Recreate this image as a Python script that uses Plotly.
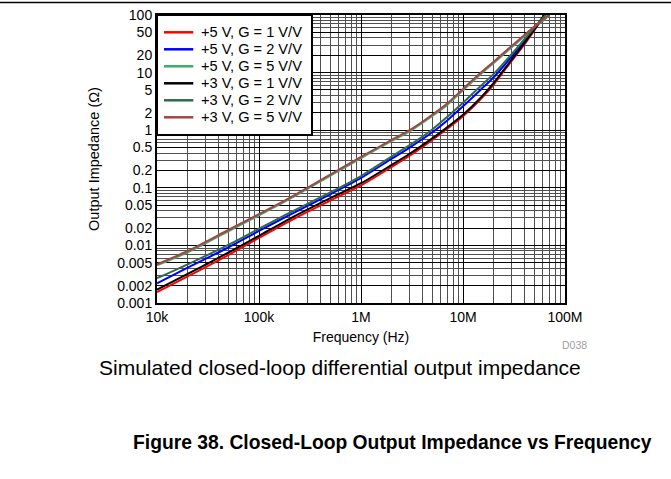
import plotly.graph_objects as go

# ---- data ----
freq_hz = [1e4, 2e4, 5e4, 1e5, 2e5, 5e5, 1e6, 2e6, 3e6, 5e6, 7e6, 1e7, 1.5e7, 2e7, 3e7, 4e7, 5e7, 6e7, 7e7]

z_5v_g1 = [0.00155, 0.0029, 0.0068, 0.0135, 0.0265, 0.060, 0.11, 0.23, 0.36, 0.68, 1.06, 1.75, 3.5, 6.2, 16, 31, 54, 88, 132]
z_5v_g2 = [0.0022, 0.0041, 0.0092, 0.0178, 0.034, 0.077, 0.148, 0.32, 0.50, 0.92, 1.48, 2.6, 5.1, 8.3, 19, 35, 57, 87, 125]
z_5v_g5 = [0.0045, 0.0076, 0.0176, 0.0333, 0.064, 0.162, 0.328, 0.65, 0.95, 1.76, 2.75, 4.95, 9.5, 14.7, 27.5, 43, 60, 78, 98]
z_3v_g1 = [0.0017, 0.0032, 0.0075, 0.0147, 0.029, 0.066, 0.12, 0.25, 0.39, 0.72, 1.12, 1.85, 3.7, 6.6, 16.8, 32.5, 56, 90, 134]
z_3v_g2 = [0.0027, 0.0047, 0.0102, 0.0195, 0.037, 0.083, 0.16, 0.35, 0.55, 1.03, 1.7, 3.0, 5.9, 9.5, 21, 38, 60, 86, 118]
z_3v_g5 = [0.0047, 0.0080, 0.0185, 0.035, 0.067, 0.17, 0.345, 0.68, 1.0, 1.85, 2.9, 5.2, 10, 15.5, 29, 45, 63, 81, 101]

series_names = ["+5 V, G = 1 V/V", "+5 V, G = 2 V/V", "+5 V, G = 5 V/V",
                "+3 V, G = 1 V/V", "+3 V, G = 2 V/V", "+3 V, G = 5 V/V"]
series_values = [z_5v_g1, z_5v_g2, z_5v_g5, z_3v_g1, z_3v_g2, z_3v_g5]
series_colors = ["#ff0000", "#0000ff", "#3dab6e", "#000000", "#2e6b4b", "#a64343"]

x_tick_vals = [1e4, 1e5, 1e6, 1e7, 1e8]
x_tick_text = ["10k", "100k", "1M", "10M", "100M"]
y_tick_vals = [100, 50, 20, 10, 5, 2, 1, 0.5, 0.2, 0.1, 0.05, 0.02, 0.01, 0.005, 0.002, 0.001]
y_tick_text = ["100", "50", "20", "10", "5", "2", "1", "0.5", "0.2", "0.1",
               "0.05", "0.02", "0.01", "0.005", "0.002", "0.001"]

x_minor = [k * 10 ** d for d in range(4, 8) for k in range(1, 10)]
y_minor = [k * 10.0 ** d for d in range(-3, 2) for k in range(1, 10)]

FONT = "Liberation Sans, Arial, sans-serif"

# plot area in page pixels
L, R, T, B = 157, 565, 15, 303
W, H = 671, 479
PW, PH = R - L, B - T


def px(x):
    return (x - L) / PW


def py(y):
    return (B - y) / PH


fig = go.Figure()
for name, vals, col in zip(series_names, series_values, series_colors):
    fig.add_trace(go.Scatter(x=freq_hz, y=vals, mode="lines", name=name, showlegend=False,
                             line=dict(color=col, width=2, shape="spline", smoothing=0.8)))

axis_common = dict(
    type="log", showline=True, linecolor="black", linewidth=2, mirror=True,
    ticks="", showgrid=True, gridcolor="#000000", gridwidth=1, zeroline=False,
    automargin=False,
    tickfont=dict(family=FONT, size=14, color="black"),
)

fig.update_xaxes(**axis_common, range=[4, 8], tickmode="array",
                 tickvals=x_tick_vals, ticktext=x_tick_text,
                 minor=dict(tickmode="array", tickvals=x_minor, showgrid=True,
                            gridcolor="#505050", gridwidth=1, ticks=""),
                 title=dict(text="Frequency (Hz)", font=dict(family=FONT, size=14, color="black"),
                            standoff=8))
fig.update_yaxes(**axis_common, range=[-3, 2], tickmode="array",
                 tickvals=y_tick_vals, ticktext=y_tick_text,
                 minor=dict(tickmode="array", tickvals=y_minor, showgrid=True,
                            gridcolor="#505050", gridwidth=1, ticks=""),
                 title=dict(text="Output Impedance (Ω)", font=dict(family=FONT, size=14.5, color="black"),
                            standoff=14))

# ---- key (legend) box drawn in paper space ----
key_left, key_right, key_top, key_bottom = 157, 312, 15, 135
row0, row_gap = 32.3, 17.0
shapes = [dict(type="rect", xref="paper", yref="paper", layer="above",
               x0=px(key_left), x1=px(key_right), y0=py(key_bottom), y1=py(key_top),
               fillcolor="white", line=dict(color="black", width=2))]
annotations = []
for i, (name, col) in enumerate(zip(series_names, series_colors)):
    yy = row0 + i * row_gap
    shapes.append(dict(type="line", xref="paper", yref="paper", layer="above",
                       x0=px(164), x1=px(193.3), y0=py(yy), y1=py(yy),
                       line=dict(color=col, width=2.5)))
    annotations.append(dict(text=name, xref="paper", yref="paper", x=px(199), y=py(yy),
                            showarrow=False, xanchor="left", yanchor="middle",
                            font=dict(family=FONT, size=14.6, color="black")))

shapes.append(dict(type="line", xref="paper", yref="paper",
                   x0=px(0), x1=px(W), y0=py(2.5), y1=py(2.5),
                   line=dict(color="black", width=1.5)))

annotations += [
    dict(text="D038", xref="paper", yref="paper", x=px(574.5), y=py(345),
         showarrow=False, xanchor="center", yanchor="middle",
         font=dict(family=FONT, size=10.5, color="#a0a0a0")),
    dict(text="Simulated closed-loop differential output impedance", xref="paper", yref="paper",
         x=px(339.5), y=py(367), showarrow=False,
         xanchor="center", yanchor="middle",
         font=dict(family=FONT, size=21, color="black")),
    dict(text="<b>Figure 38. Closed-Loop Output Impedance vs Frequency</b>", xref="paper", yref="paper",
         x=px(392), y=py(442), showarrow=False,
         xanchor="center", yanchor="middle",
         font=dict(family=FONT, size=19.3, color="black")),
]

fig.update_layout(
    width=W, height=H,
    margin=dict(l=L, r=W - R, t=T, b=H - B, autoexpand=False),
    paper_bgcolor="white", plot_bgcolor="white",
    font=dict(family=FONT, color="black"),
    showlegend=False,
    shapes=shapes,
    annotations=annotations,
)

fig.write_html("out.html", config={"displayModeBar": False},
               post_script="document.body.style.margin='0';document.body.style.overflow='hidden';")
